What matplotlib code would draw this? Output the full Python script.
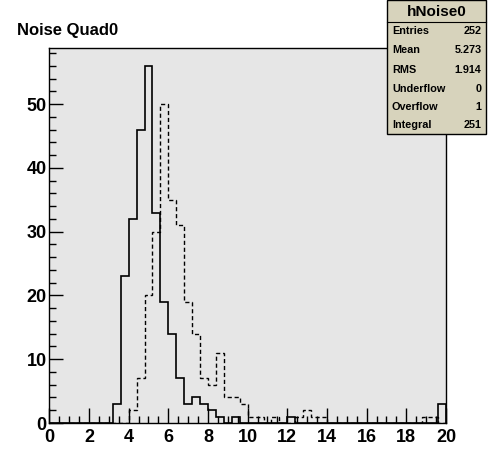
import numpy as np
import matplotlib
matplotlib.use("Agg")
import matplotlib.pyplot as plt
from matplotlib.ticker import MultipleLocator

# histogram binning: 50 bins on [0, 20]
x_min, x_max, n_bins = 0.0, 20.0, 50

# solid histogram (hNoise0), counts per bin
noise_solid = [0, 0, 0, 0, 0, 0, 0, 0, 3, 23,
               32, 46, 56, 33, 19, 14, 7, 3, 4, 3,
               2, 1, 0, 1, 0, 0, 0, 0, 0, 0,
               1, 0, 0, 0, 0, 0, 0, 0, 0, 0,
               0, 0, 0, 0, 0, 0, 0, 0, 0, 3]

# dashed histogram, counts per bin
noise_dashed = [0, 0, 0, 0, 0, 0, 0, 0, 0, 0,
                2, 7, 20, 30, 50, 35, 31, 19, 14, 7,
                6, 11, 4, 4, 3, 1, 1, 0, 1, 0,
                0, 1, 2, 1, 1, 0, 0, 0, 0, 0,
                0, 0, 0, 0, 0, 0, 0, 1, 1, 0]

stat_names = ["Entries", "Mean", "RMS", "Underflow", "Overflow", "Integral"]
stat_values = ["252", "5.273", "1.914", "0", "1", "251"]

plt.rcParams["font.family"] = ["Liberation Sans", "DejaVu Sans"]

edges = np.linspace(x_min, x_max, n_bins + 1)

fig = plt.figure(figsize=(4.96, 4.71), dpi=100)
ax = fig.add_axes([49.3 / 496, 48 / 471, (446 - 49.3) / 496, (423 - 48) / 471])
ax.set_facecolor("#e6e6e6")

ax.stairs(noise_dashed, edges, color="black", lw=1.0, linestyle=(0, (3, 2)))
ax.stairs(noise_solid, edges, color="black", lw=1.2)

ax.set_xlim(x_min, x_max)
ax.set_ylim(0, max(noise_solid) * 1.05)

ax.xaxis.set_major_locator(MultipleLocator(2))
ax.xaxis.set_minor_locator(MultipleLocator(0.5))
ax.yaxis.set_major_locator(MultipleLocator(10))
ax.yaxis.set_minor_locator(MultipleLocator(2))
ax.tick_params(which="both", direction="in", top=False, right=False, width=1)
ax.tick_params(axis="x", which="major", length=11, pad=4)
ax.tick_params(axis="x", which="minor", length=5)
ax.tick_params(axis="y", which="major", length=10, pad=2)
ax.tick_params(axis="y", which="minor", length=5)
for lab in ax.get_xticklabels() + ax.get_yticklabels():
    lab.set_fontsize(13)
    lab.set_fontweight("bold")
for sp in ax.spines.values():
    sp.set_linewidth(1.0)

fig.text(17 / 496, 1 - 30 / 471, "Noise Quad0", fontsize=12, fontweight="bold",
         ha="left", va="center")

# stats box
bx0, bx1, by0, by1 = 386.5 / 496, 486 / 496, 1 - 133.5 / 471, 1 - 0.5 / 471
box = plt.Rectangle((bx0, by0), bx1 - bx0, by1 - by0, transform=fig.transFigure,
                    facecolor="#d7d3bc", edgecolor="black", lw=1.0, zorder=5)
fig.add_artist(box)
fig.add_artist(plt.Line2D([bx0, bx1], [1 - 21.5 / 471] * 2, transform=fig.transFigure,
                          color="black", lw=0.8, zorder=6))
fig.text((bx0 + bx1) / 2, 1 - 12 / 471, "hNoise0", fontsize=11, fontweight="bold",
         ha="center", va="center", zorder=7)
row_y = [30.5, 50, 70, 89, 107.5, 125.5]
for name, val, ry in zip(stat_names, stat_values, row_y):
    fig.text(392 / 496, 1 - ry / 471, name, fontsize=7.8, fontweight="bold",
             ha="left", va="center", zorder=7)
    fig.text(481.5 / 496, 1 - ry / 471, val, fontsize=7.8, fontweight="bold",
             ha="right", va="center", zorder=7)

fig.savefig("out.png", dpi=100)
